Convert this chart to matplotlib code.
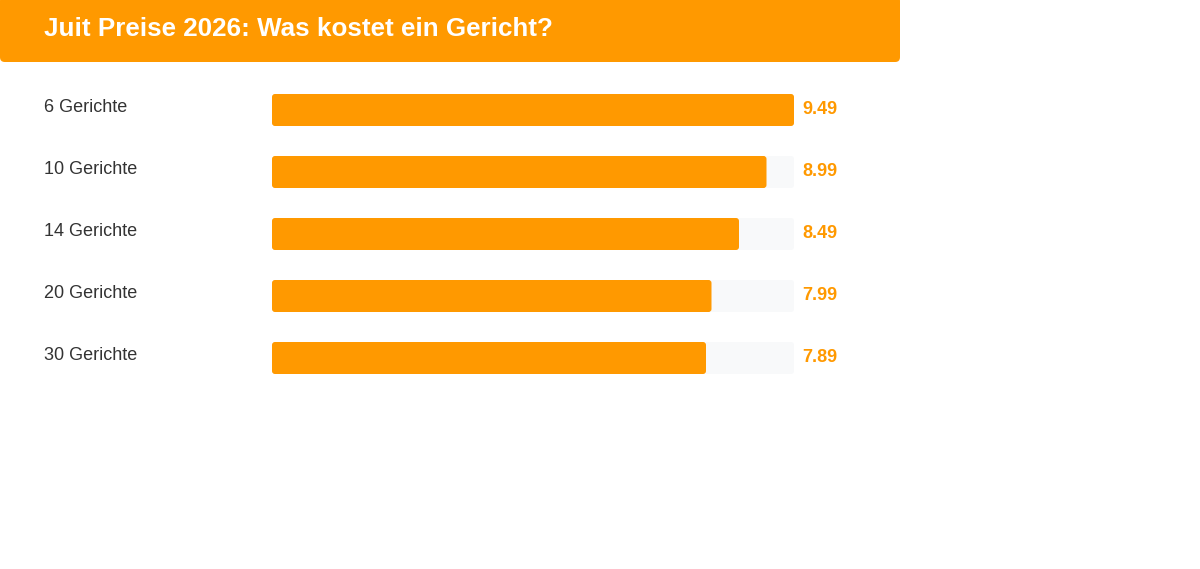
import matplotlib.pyplot as plt
from matplotlib.patches import FancyBboxPatch
from matplotlib.transforms import blended_transform_factory

categories = ["6 Gerichte", "10 Gerichte", "14 Gerichte", "20 Gerichte", "30 Gerichte"]
prices = [9.49, 8.99, 8.49, 7.99, 7.89]
title = "Juit Preise 2026: Was kostet ein Gericht?"

orange = "#ff9900"
track = "#f8f9fa"
plt.rcParams["font.family"] = ["Liberation Sans", "DejaVu Sans"]

W, H = 1200, 569
fig = plt.figure(figsize=(W / 100, H / 100), dpi=100)

# header band
fig.patches.append(FancyBboxPatch((0, (H - 62) / H), 900 / W, 66 / H,
                                  boxstyle="round,pad=0,rounding_size=0.004",
                                  transform=fig.transFigure, fc=orange, ec="none",
                                  mutation_aspect=W / H))
fig.text(44 / W, 1 - 29 / H, title, color="white", fontsize=18.7, fontweight="bold",
         va="center", ha="left")

# bar area: 272..794 px wide, rows 62 px apart
ax = fig.add_axes([272 / W, (H - 389) / H, 522 / W, 310 / H])
ax.set_xlim(0, max(prices))
ax.set_ylim(len(categories) - 0.5, -0.5)
ax.axis("off")

ypos = range(len(categories))
bh = 32 / 62
bg = ax.barh(ypos, [max(prices)] * len(prices), height=bh, color=track)
fg = ax.barh(ypos, prices, height=bh, color=orange)

# swap plain rectangles for rounded ones
xpx = 522 / max(prices)   # px per x unit
ypx = 62                  # px per y unit
for cont in (bg, fg):
    for r in cont:
        r.set_visible(False)
        p = FancyBboxPatch((r.get_x(), r.get_y()), r.get_width(), r.get_height(),
                           boxstyle="round,pad=0,rounding_size=%f" % (3 / xpx),
                           mutation_aspect=xpx / ypx,
                           fc=r.get_facecolor(), ec="none")
        ax.add_patch(p)

lab_tr = blended_transform_factory(fig.transFigure, ax.transData)
for i, (c, v) in enumerate(zip(categories, prices)):
    ax.text(44 / W, i - 3 / 62, c, transform=lab_tr, fontsize=13, color="#333333",
            va="center", ha="left")
    ax.text(max(prices) + 8 / xpx, i - 0.5 / 62, "%.2f" % v, fontsize=13,
            fontweight="bold", color=orange, va="center", ha="left")

fig.savefig("out.png", dpi=100)
